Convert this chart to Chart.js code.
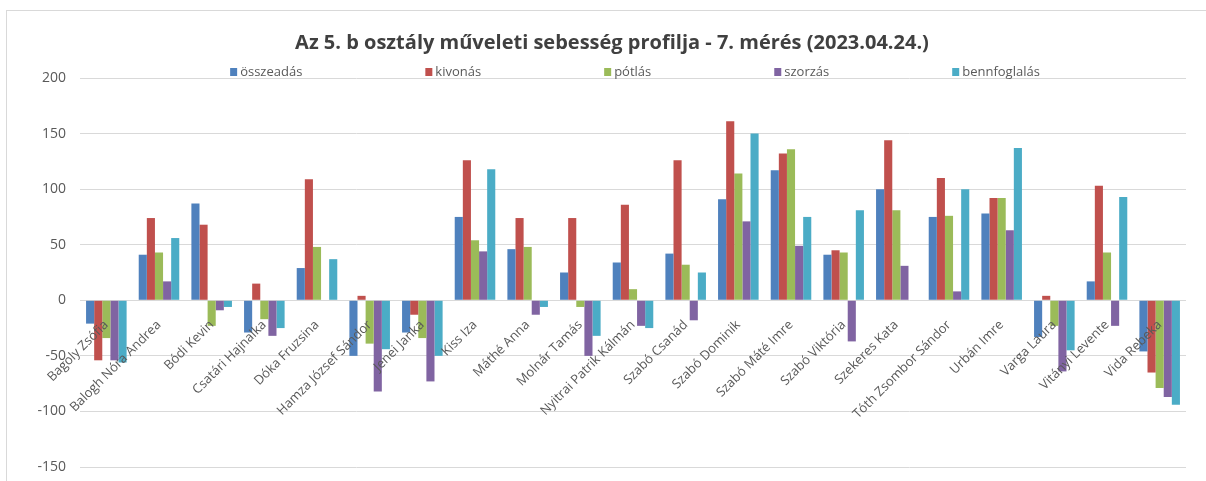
<!DOCTYPE html>
<html>
<head>
<meta charset="utf-8">
<script src="https://cdn.jsdelivr.net/npm/chart.js@4"></script>
<style>
    html, body { margin: 0; padding: 0; background: #fff; }
    #wrap { position: relative; width: 1206px; height: 481px; overflow: hidden; }
    #frame { position: absolute; left: 6px; top: 10px; width: 1220px; height: 500px; border: 1px solid #d9d9d9; }
    #chart { position: absolute; left: 0; top: 0; }
</style>
</head>
<body>
<div id="wrap">
    <div id="frame"></div>
    <canvas id="chart" width="1206" height="481"></canvas>
</div>
<script>
var students = ['Bagoly Zsófia', 'Balogh Nóra Andrea', 'Bódi Kevin', 'Csatári Hajnalka', 'Dóka Fruzsina',
    'Hamza József Sándor', 'Jenei Janka', 'Kiss Iza', 'Máthé Anna', 'Molnár Tamás', 'Nyitrai Patrik Kálmán',
    'Szabó Csanád', 'Szabó Dominik', 'Szabó Máté Imre', 'Szabó Viktória', 'Szekeres Kata',
    'Tóth Zsombor Sándor', 'Urbán Imre', 'Varga Laura', 'Vitányi Levente', 'Vida Rebeka'];

var osszeadas    = [-21, 41, 87, -29, 29, -50, -29, 75, 46, 25, 34, 42, 91, 117, 41, 100, 75, 78, -33, 17, -46];
var kivonas      = [-54, 74, 68, 15, 109, 4, -13, 126, 74, 74, 86, 126, 161, 132, 45, 144, 110, 92, 4, 103, -65];
var potlas       = [-34, 43, -23, -17, 48, -39, -34, 54, 48, -6, 10, 32, 114, 136, 43, 81, 76, 92, -23, 43, -79];
var szorzas      = [-54, 17, -9, -32, 0, -82, -73, 44, -13, -50, -23, -18, 71, 49, -37, 31, 8, 63, -64, -23, -87];
var bennfoglalas = [-56, 56, -6, -25, 37, -44, -50, 118, -6, -32, -25, 25, 150, 75, 81, 0, 100, 137, -45, 93, -94];

var seriesNames = ['összeadás', 'kivonás', 'pótlás', 'szorzás', 'bennfoglalás'];
var seriesColors = ['#4f81bd', '#c0504d', '#9bbb59', '#8064a2', '#4bacc6'];
var yTicks = [-150, -100, -50, 0, 50, 100, 150, 200];

var FONT = "'Open Sans', sans-serif";

// legend drawn by hand so it can sit on the 200 line with wide gaps like Excel
var topLegend = {
    id: 'topLegend',
    afterDraw: function (chart) {
        var ctx = chart.ctx;
        var area = chart.chartArea;
        var gap = 123;
        ctx.save();
        ctx.font = '13px ' + FONT;
        var widths = chart.data.datasets.map(function (ds) {
            return 7 + 3 + ctx.measureText(ds.label).width;
        });
        var total = widths.reduce(function (a, b) { return a + b; }, 0) + gap * (widths.length - 1);
        var x = (area.left + area.right) / 2 - total / 2 + 2;
        var y = area.top - 6;
        chart.data.datasets.forEach(function (ds, i) {
            ctx.fillStyle = ds.backgroundColor;
            ctx.fillRect(x, y - 4, 7, 8);
            ctx.fillStyle = '#595959';
            ctx.textBaseline = 'middle';
            ctx.textAlign = 'left';
            ctx.fillText(ds.label, x + 10, y);
            x += widths[i] + gap;
        });
        ctx.restore();
    }
};

var allSeries = [osszeadas, kivonas, potlas, szorzas, bennfoglalas];

new Chart(document.getElementById('chart'), {
    type: 'bar',
    data: {
        labels: students,
        datasets: allSeries.map(function (vals, i) {
            return {
                label: seriesNames[i],
                data: vals,
                backgroundColor: seriesColors[i],
                borderWidth: 0,
                barPercentage: 1.0,
                categoryPercentage: 0.77
            };
        })
    },
    options: {
        responsive: false,
        animation: false,
        layout: {
            padding: { left: 38, right: 20, top: 0, bottom: 14 }
        },
        plugins: {
            legend: { display: false },
            tooltip: { enabled: false },
            title: {
                display: true,
                text: 'Az 5. b osztály műveleti sebesség profilja - 7. mérés (2023.04.24.)',
                color: '#404040',
                font: { family: FONT, size: 20, weight: 'bold' },
                padding: { top: 31, bottom: 23 }
            }
        },
        scales: {
            x: {
                position: { y: 0 },
                grid: { display: false },
                border: { display: false },
                ticks: {
                    z: 1,   // names are written over the bars, like in Excel
                    autoSkip: false,
                    minRotation: 45,
                    maxRotation: 45,
                    padding: 9,
                    color: '#595959',
                    font: { family: FONT, size: 13 }
                }
            },
            y: {
                min: yTicks[0],
                max: yTicks[yTicks.length - 1],
                afterBuildTicks: function (scale) {
                    scale.ticks = yTicks.map(function (v) { return { value: v }; });
                },
                grid: { color: '#d9d9d9', lineWidth: 1, drawTicks: false },
                border: { display: false },
                ticks: {
                    padding: 14,
                    color: '#595959',
                    font: { family: FONT, size: 14 }
                },
                afterFit: function (scale) {
                    scale.width = 42;
                    scale.paddingTop = 0;
                    scale.paddingBottom = 0;
                }
            }
        }
    },
    plugins: [topLegend]
});
</script>
</body>
</html>
